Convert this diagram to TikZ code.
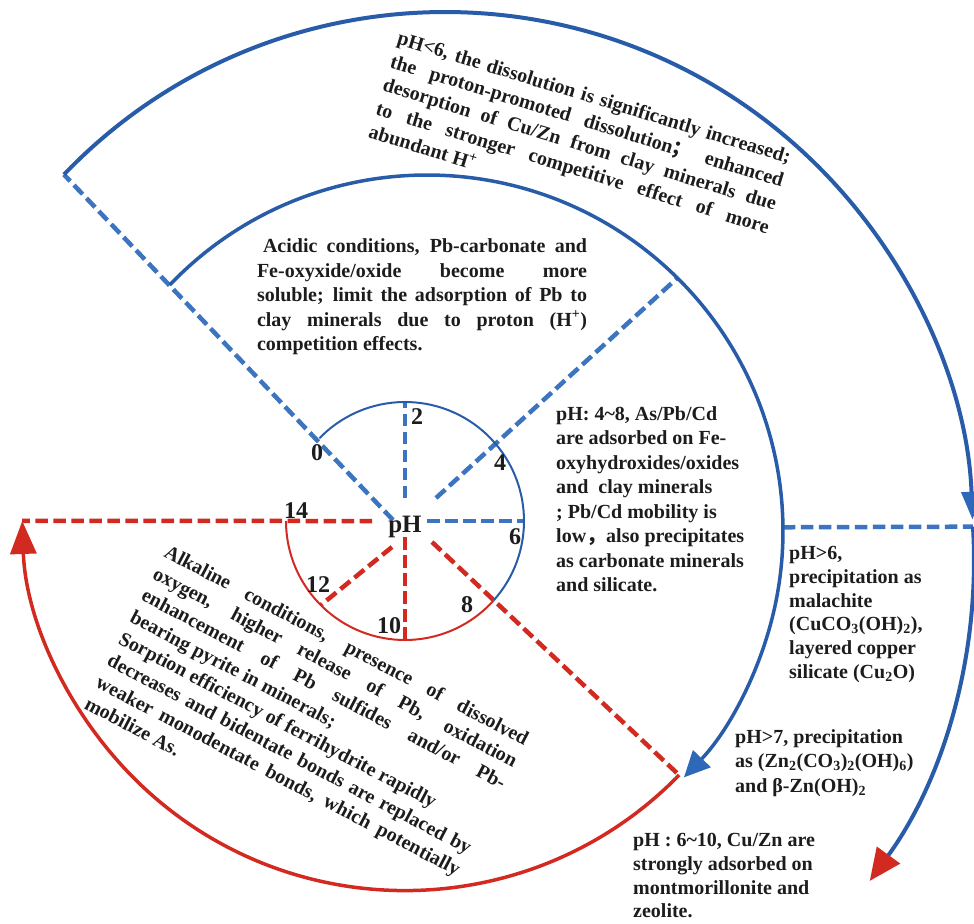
\documentclass[tikz,border=0pt]{standalone}
\usepackage{fontspec}
\setmainfont{Liberation Serif}
\newfontfamily\cjk{Noto Sans CJK SC}
\usetikzlibrary{arrows.meta,calc}
\definecolor{bdash}{RGB}{61,116,192}
\definecolor{barc}{RGB}{40,92,168}
\definecolor{bfill}{RGB}{46,104,184}
\definecolor{rred}{RGB}{210,42,32}
\definecolor{ink}{RGB}{28,28,28}
\newcommand\jline[2]{\makebox[#1][s]{#2}}
\begin{document}
\begin{tikzpicture}[x=1bp,y=1bp,
  bd/.style={bdash,line width=4.5bp,dash pattern=on 12.5bp off 5.5bp},
  rd/.style={rred,line width=4.5bp,dash pattern=on 12.5bp off 5.5bp},
  txt/.style={inner sep=0pt,text=ink,align=left,font=\bfseries\fontsize{20bp}{24.5bp}\selectfont},
  num/.style={inner sep=0pt,text=ink,font=\bfseries\fontsize{24bp}{28bp}\selectfont},
  ring/.style={line width=2bp},
]
\useasboundingbox (0,0) rectangle (974,-924);

% centres
\coordinate (Sc) at (405,-521);
\coordinate (Mc) at (427,-531);
\coordinate (Oc) at (445,-540);
\coordinate (Lc) at (428,-560);
\coordinate (Rc) at (405,-507.6);

% points on arcs
\coordinate (o0) at ($(Oc)+(136.2:528)$);
\coordinate (m0) at ($(Mc)+(136.3:356)$);
\coordinate (m4) at ($(Mc)+(45.3:356)$);
\coordinate (m6) at ($(Mc)+(0.6:356)$);
\coordinate (q)  at ($(Lc)+(3.5:546)$);
\coordinate (r8) at ($(Rc)+(-44.3:383)$);
\coordinate (r14) at ($(Rc)+(-178:383)$);
\coordinate (s2) at ($(Sc)+(90:119)$);
\coordinate (s6) at ($(Sc)+(0:119)$);
\coordinate (s10) at ($(Sc)+(-90:119)$);
\coordinate (s12) at ($(Sc)+(225:119)$);

% inner ends near the centre
\coordinate (c0) at (393,-520);
\coordinate (c2) at (405,-498);
\coordinate (c4) at (436,-498);
\coordinate (c6) at (427,-521);
\coordinate (c8) at (432,-542);
\coordinate (c10) at (405,-537);
\coordinate (c12) at (392,-547);
\coordinate (c14) at (372,-521);

% dashed rays
\draw[bd] (c0) -- (o0);
\draw[bd] (c2) -- (s2);
\draw[bd] (c4) -- (m4);
\draw[bd] (c6) -- (s6);
\draw[bd] (m6) -- (q);
\draw[rd] (c8) -- (r8);
\draw[rd] (c10) -- (s10);
\draw[rd] (c12) -- (s12);
\draw[rd] (c14) -- (r14);

% small circle
\draw[barc,ring] (Sc) ++(136:119) arc[start angle=136,end angle=-42,radius=119];
\draw[rred,ring] (Sc) ++(-42:119) arc[start angle=-42,end angle=-180,radius=119];

% arcs with arrows
\draw[barc,line width=3.5bp,-{Triangle[length=26bp,width=24bp,color=bfill]}]
  (m0) arc[start angle=136.3,end angle=-43.8,radius=356];
\draw[barc,line width=4bp,-{Triangle[length=28bp,width=20bp,color=bfill]}]
  (o0) arc[start angle=136.2,end angle=2.2,radius=528];
\draw[barc,line width=4bp,-{Triangle[length=32bp,width=28bp,color=rred]}]
  (q) arc[start angle=3.5,end angle=-36,radius=546];
\draw[rred,line width=3.5bp,-{Triangle[length=33bp,width=26bp]}]
  (r8) arc[start angle=-44.3,end angle=-178,radius=383];

% labels on the small circle
\node[inner sep=0pt,text=ink,font=\bfseries\fontsize{25bp}{30bp}\selectfont] (ph) at (405,-527) {pH};
\node[num] (n0) at (317,-453) {0};
\node[num] (n2) at (417,-417) {2};
\node[num] (n4) at (500,-463) {4};
\node[num] (n6) at (515,-537) {6};
\node[num] (n8) at (467,-605) {8};
\node[num] (n10) at (389,-626) {10};
\node[num] (n12) at (318,-585) {12};
\node[num] (n14) at (296,-511) {14};

% text blocks
\node[txt] (acid) at (422,-297) {%
\hspace*{6bp}\jline{324bp}{Acidic conditions, Pb-carbonate and}\\
\jline{330bp}{Fe-oxyxide/oxide become more}\\
\jline{330bp}{soluble; limit the adsorption of Pb to}\\
\jline{330bp}{clay minerals due to proton (H\textsuperscript{+})}\\
competition effects.};

\node[txt,rotate=-17] (top) at (580,-144) {%
\jline{410bp}{pH<6, the dissolution is significantly increased;}\\
\jline{410bp}{the proton-promoted dissolution{\cjk ；} enhanced}\\
\jline{410bp}{desorption of Cu/Zn from clay minerals due}\\
\jline{410bp}{to the stronger competitive effect of more}\\
abundant H\textsuperscript{+}};

\node[txt,rotate=-27.7] (alk) at (307,-721) {%
\jline{408bp}{Alkaline conditions, presence of dissolved}\\
\jline{408bp}{oxygen, higher release of Pb, oxidation}\\
\jline{408bp}{enhancement of Pb sulfides and/or Pb-}\\
bearing pyrite in minerals;\\
Sorption efficiency of ferrihydrite rapidly\\
\jline{408bp}{decreases and bidentate bonds are replaced by}\\
\jline{408bp}{weaker monodentate bonds, which potentially}\\
mobilize As.};

\node[txt,anchor=north west] (mid) at (556,-406) {%
pH: 4\textasciitilde8, As/Pb/Cd\\
are adsorbed on Fe-\\
oxyhydroxides/oxides\\
and\ \ clay minerals\\
; Pb/Cd mobility is\\
low{\cjk ，}also precipitates\\
as carbonate minerals\\
and silicate.};

\node[txt,anchor=north west,font=\bfseries\fontsize{20bp}{23.8bp}\selectfont] (cu6) at (789,-546) {%
pH>6,\\
precipitation as\\
malachite\\
(CuCO\textsubscript{3}(OH)\textsubscript{2}),\\
layered copper\\
silicate (Cu\textsubscript{2}O)};

\node[txt,anchor=north west] (zn7) at (735,-729) {%
pH>7, precipitation\\
as (Zn\textsubscript{2}(CO\textsubscript{3})\textsubscript{2}(OH)\textsubscript{6})\\
and β-Zn(OH)\textsubscript{2}};

\node[txt,anchor=north west,font=\bfseries\fontsize{20bp}{23.8bp}\selectfont] (cuzn) at (633,-833) {%
pH : 6\textasciitilde10, Cu/Zn are\\
strongly adsorbed on\\
montmorillonite and\\
zeolite.};
\end{tikzpicture}
\end{document}
